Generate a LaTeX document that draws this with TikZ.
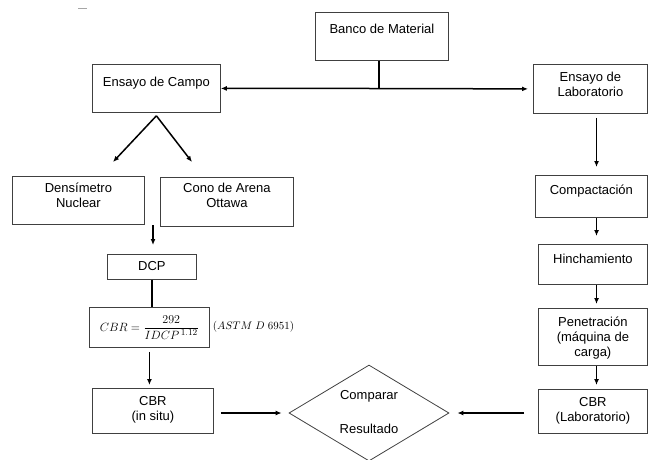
\documentclass[tikz,border=0pt]{standalone}
\usepackage{amsmath}
\usepackage{fontspec}
\setmainfont{Liberation Sans}
\usetikzlibrary{arrows.meta,shapes.geometric}
\definecolor{boxgray}{RGB}{64,64,64}
\newcommand{\lns}[1]{\begin{tabular}[t]{@{}c@{}}#1\end{tabular}}

\begin{document}
\begin{tikzpicture}[x=1pt, y=-1pt, font=\fontsize{13}{15}\selectfont,
  box/.style={draw=boxgray, line width=0.8pt, inner ysep=0pt, anchor=north west},
  arr/.style={line width=1.5pt, -{Latex[length=6pt,width=5pt]}},
  link/.style={line width=1.5pt}]

  \useasboundingbox (0,0) rectangle (648,459);

  % Stray mark
  \draw[gray!70, line width=1pt] (78,8) -- (87,8);

  % Top row
  \node[box, minimum width=133pt, text height=21.5pt, text depth=26.5pt] (banco) at (315,12) {Banco de Material};
  \node[box, minimum width=128pt, text height=22.5pt, text depth=25.5pt] (campo) at (92,64) {Ensayo de Campo};
  \node[box, minimum width=114pt, text height=17.5pt, text depth=31.5pt] (lab) at (533,64) {\lns{Ensayo de\\Laboratorio}};

  % Field branch
  \node[box, minimum width=132pt, text height=16.5pt, text depth=31.5pt] (dens) at (12,176) {\lns{Densímetro\\Nuclear}};
  \node[box, minimum width=133pt, text height=15.5pt, text depth=33.5pt] (cono) at (160,177) {\lns{Cono de Arena\\Ottawa}};
  \node[box, minimum width=89pt, text height=16.5pt, text depth=8.5pt] (dcp) at (107,254) {DCP};
  \node[box, minimum width=120pt, minimum height=40pt, font=\fontsize{13}{15}\selectfont] (cbrf) at (89,307) {$CBR=\dfrac{292}{IDCP^{\,1.12}}$};
  \node[font=\fontsize{11}{13}\selectfont] (astm) at (253.5,327) {$(ASTM\ D\ 6951)$};
  \node[box, minimum width=121pt, text height=17.5pt, text depth=27.5pt] (insitu) at (92,388) {\lns{CBR\\(in situ)}};

  % Lab branch
  \node[box, minimum width=112pt, text height=19.5pt, text depth=22.5pt] (compact) at (535,175) {Compactación};
  \node[box, minimum width=109pt, text height=19.5pt, text depth=20.5pt] (hinch) at (538,244) {Hinchamiento};
  \node[box, minimum width=109pt, text height=18pt, text depth=39pt] (penet) at (538,308) {\lns{Penetración\\(máquina de\\carga)}};
  \node[box, minimum width=109pt, text height=17pt, text depth=27pt] (cbrlab) at (538,389) {\lns{CBR\\(Laboratorio)}};

  % Comparison
  \node[draw=boxgray, line width=0.8pt, diamond, aspect=1.667, minimum width=160pt, minimum height=96pt, inner sep=0pt] (comp) at (369,413) {\lns{Comparar\\[19pt]Resultado}};

  % Connectors, top
  \coordinate (junc) at (379,88.5);
  \draw[link] (banco.south -| junc) -- (junc);
  \draw[arr] (junc) -- (campo.east);
  \draw[arr, shorten >=5pt] (junc) -- (lab.west);

  % Connectors, field
  \coordinate (fork) at ([yshift=-3pt]campo.south);
  \coordinate (fl) at (113,162);
  \coordinate (fr) at (192,162);
  \draw[arr] (fork) -- (fl);
  \draw[arr] (fork) -- (fr);
  \coordinate (ftop) at (153,225);
  \coordinate (fbot) at (153,245);
  \draw[arr] (ftop) -- (fbot);
  \draw[link] (dcp.south) -- (dcp.south |- cbrf.north);
  \draw[arr, shorten <=4pt, shorten >=3pt] (cbrf.south) -- (cbrf.south |- insitu.north);
  \draw[arr, shorten <=7pt, shorten >=7pt] (insitu.east |- comp.west) -- (comp.west);

  % Connectors, lab
  \coordinate (rcol) at (596.5,0);
  \draw[arr, shorten <=4pt, shorten >=8pt] (lab.south -| rcol) -- (compact.north -| rcol);
  \draw[arr, shorten >=8pt] (compact.south -| rcol) -- (hinch.north -| rcol);
  \draw[arr, shorten >=4pt] (hinch.south -| rcol) -- (penet.north -| rcol);
  \draw[arr, shorten >=4pt] (penet.south -| rcol) -- (cbrlab.north -| rcol);
  \draw[arr, shorten <=14pt, shorten >=8pt] (cbrlab.west |- comp.east) -- (comp.east);

\end{tikzpicture}
\end{document}
